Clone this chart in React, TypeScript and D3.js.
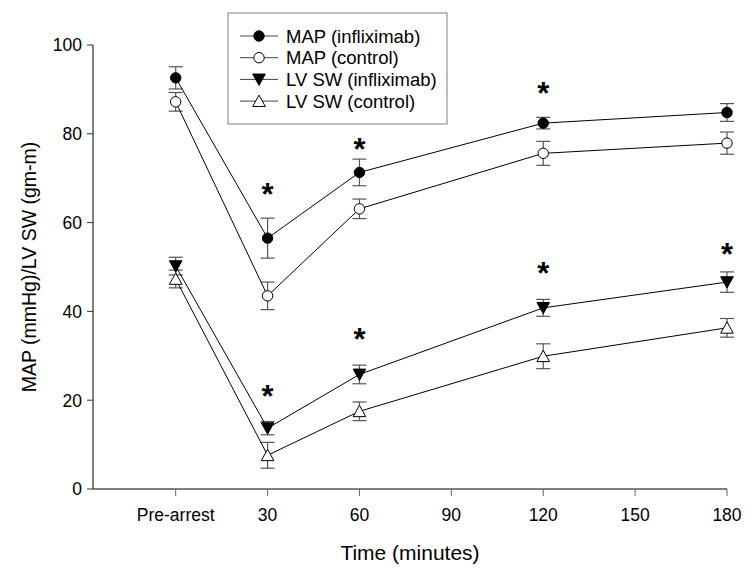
import React from 'react'
import * as d3 from 'd3'

// x ticks: pre-arrest is plotted at minute 0
const tickMinutes = [0, 30, 60, 90, 120, 150, 180]
const tickLabels = ['Pre-arrest', '30', '60', '90', '120', '150', '180']
const yTicks = [0, 20, 40, 60, 80, 100]

const sampleMinutes = [0, 30, 60, 120, 180]
const mapInfliximab = [92.6, 56.5, 71.3, 82.4, 84.8]
const mapInfliximabSE = [2.5, 4.5, 3.0, 1.3, 2.0]
const mapControl = [87.2, 43.5, 63.1, 75.6, 77.9]
const mapControlSE = [2.1, 3.1, 2.2, 2.7, 2.5]
const lvInfliximab = [50.2, 13.7, 25.8, 40.8, 46.6]
const lvInfliximabSE = [2.0, 1.5, 2.1, 1.9, 2.3]
const lvControl = [47.3, 7.6, 17.5, 29.9, 36.3]
const lvControlSE = [2.0, 2.9, 2.1, 2.8, 2.1]

// significance markers
const starMinutes = [30, 60, 120, 30, 60, 120, 180]
const starValues = [67.8, 77.9, 90.6, 22.3, 35.2, 50.1, 54.3]

const seriesNames = ['MAP (infliximab)', 'MAP (control)', 'LV SW (infliximab)', 'LV SW (control)']

const W = 755
const H = 573
const font = 'Arial, "Liberation Sans", sans-serif'

const x = d3.scaleLinear().domain([-27, 180]).range([93, 727])
const y = d3.scaleLinear().domain([0, 100]).range([489, 45])

const series = [
  { name: seriesNames[0], values: mapInfliximab, se: mapInfliximabSE, shape: 'circle', filled: true },
  { name: seriesNames[1], values: mapControl, se: mapControlSE, shape: 'circle', filled: false },
  { name: seriesNames[2], values: lvInfliximab, se: lvInfliximabSE, shape: 'down', filled: true },
  { name: seriesNames[3], values: lvControl, se: lvControlSE, shape: 'up', filled: false },
]

const Marker = ({ shape, filled, cx, cy }: any) => {
  const fill = filled ? '#000' : '#fff'
  if (shape === 'circle') return <circle cx={cx} cy={cy} r={5.2} fill={fill} stroke="#000" strokeWidth={1} />
  const s = 6.3
  const pts = shape === 'down'
    ? [[cx - s, cy - s * 0.85], [cx + s, cy - s * 0.85], [cx, cy + s * 0.95]]
    : [[cx - s, cy + s * 0.85], [cx + s, cy + s * 0.85], [cx, cy - s * 0.95]]
  return <polygon points={pts.map(p => p.join(',')).join(' ')} fill={fill} stroke="#000" strokeWidth={1} />
}

const App = () => {
  const line = d3.line<number>()
    .x((d, i) => x(sampleMinutes[i]))
    .y(d => y(d))

  return (
    <svg width={W} height={H} style={{ position: 'absolute', left: 0, top: 0, background: '#fff' }} fontFamily={font}>
      <rect width={W} height={H} fill="#fff" />

      {/* y axis */}
      <line x1={x(-27)} x2={x(-27)} y1={y(0)} y2={y(100)} stroke="#000" />
      {yTicks.map(t => (
        <g key={t}>
          <line x1={x(-27) - 6} x2={x(-27)} y1={y(t)} y2={y(t)} stroke="#333" />
          <text x={x(-27) - 11} y={y(t)} dy="0.36em" textAnchor="end" fontSize={17.5}>{t}</text>
        </g>
      ))}
      <text transform={`translate(29,${(y(0) + y(100)) / 2}) rotate(-90)`} textAnchor="middle" dy="0.36em" fontSize={19.5}>
        MAP (mmHg)/LV SW (gm-m)
      </text>

      {/* x axis */}
      <line x1={x(-27)} x2={x(180)} y1={y(0)} y2={y(0)} stroke="#000" />
      {tickMinutes.map((t, i) => (
        <g key={t}>
          <line x1={x(t)} x2={x(t)} y1={y(0)} y2={y(0) + 7} stroke="#666" />
          <text x={x(t)} y={515} dy="0.36em" textAnchor="middle" fontSize={17.5}>{tickLabels[i]}</text>
        </g>
      ))}
      <text x={(x(-27) + x(180)) / 2} y={552} dy="0.36em" textAnchor="middle" fontSize={21}>Time (minutes)</text>

      {/* error bars */}
      {series.map(s => s.values.map((v, i) => {
        const cx = x(sampleMinutes[i])
        const top = y(v + s.se[i])
        const bot = y(v - s.se[i])
        return (
          <g key={s.name + i} stroke="#555" strokeWidth={1.2}>
            <line x1={cx} x2={cx} y1={top} y2={bot} />
            <line x1={cx - 7} x2={cx + 7} y1={top} y2={top} />
            <line x1={cx - 7} x2={cx + 7} y1={bot} y2={bot} />
          </g>
        )
      }))}

      {/* lines */}
      {series.map(s => (
        <path key={s.name} d={line(s.values) || ''} fill="none" stroke="#000" strokeWidth={1} />
      ))}

      {/* markers */}
      {series.map(s => s.values.map((v, i) => (
        <Marker key={s.name + 'm' + i} shape={s.shape} filled={s.filled} cx={x(sampleMinutes[i])} cy={y(v)} />
      )))}

      {/* stars */}
      {starMinutes.map((m, i) => (
        <text key={'s' + i} x={x(m)} y={y(starValues[i]) + 17} textAnchor="middle" fontSize={31} fontWeight="bold">*</text>
      ))}

      {/* legend */}
      <rect x={228} y={13} width={219} height={111} fill="#fff" stroke="#808080" strokeWidth={1} />
      {series.map((s, i) => {
        const ly = 36 + i * 21.7
        return (
          <g key={'l' + s.name}>
            <line x1={240} x2={278} y1={ly} y2={ly} stroke="#444" />
            <Marker shape={s.shape} filled={s.filled} cx={259} cy={ly} />
            <text x={286} y={ly} dy="0.36em" fontSize={18.5}>{s.name}</text>
          </g>
        )
      })}
    </svg>
  )
}

export default App
